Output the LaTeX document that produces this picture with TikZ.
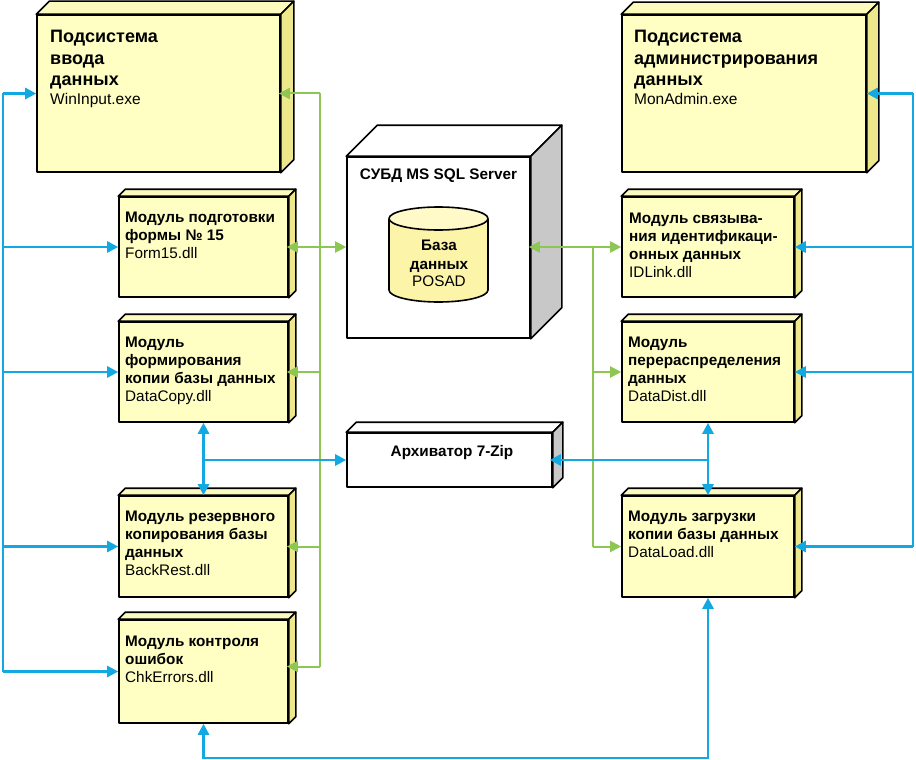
\documentclass[tikz,border=0pt]{standalone}
\usepackage{fontspec}
\setmainfont{Liberation Sans}
\usetikzlibrary{arrows.meta,fit}
\definecolor{yfront}{RGB}{255,255,196}
\definecolor{ytop}{RGB}{252,250,188}
\definecolor{yside}{RGB}{238,232,140}
\definecolor{gside}{RGB}{200,200,200}
\definecolor{cylbody}{RGB}{252,244,168}
\definecolor{cyltop}{RGB}{255,250,200}
\definecolor{cblue}{RGB}{18,168,226}
\definecolor{cgreen}{RGB}{141,198,83}
\tikzset{
  boxedge/.style={draw=black, line width=1.6pt, line join=round},
  yfrontst/.style={boxedge, fill=yfront},
  ytopst/.style={boxedge, fill=ytop},
  ysidest/.style={boxedge, fill=yside},
  wfrontst/.style={boxedge, fill=white},
  wtopst/.style={boxedge, fill=white},
  wsidest/.style={boxedge, fill=gside},
  bl/.style={draw=cblue, line width=2.6pt},
  gr/.style={draw=cgreen, line width=2pt},
  tipa/.style={-{Triangle[length=11pt,width=11pt]}},
  tipb/.style={{Triangle[length=11pt,width=11pt]}-{Triangle[length=11pt,width=11pt]}},
  txt/.style={anchor=base west, inner sep=0pt},
  txtc/.style={anchor=base, inner sep=0pt},
}
% #1 name, #2 x1, #3 y1, #4 x2, #5 y2, #6 depth, #7 colour set (y or w)
\newcommand\mycube[7]{%
  \node[fit={(#2,#3) (#4,#5)}, inner sep=0pt, #7frontst] (#1) {};
  \filldraw[#7topst] (#1.north west) -- ([shift={(#6,-#6)}]#1.north west)
     -- ([shift={(#6,-#6)}]#1.north east) -- (#1.north east) -- cycle;
  \filldraw[#7sidest] (#1.north east) -- ([shift={(#6,-#6)}]#1.north east)
     -- ([shift={(#6,-#6)}]#1.south east) -- (#1.south east) -- cycle;
}
\newcommand\mylbl[3]{{\fontsize{#1}{#2}\selectfont\begin{tabular}[t]{@{}l@{}}#3\end{tabular}}}
\newcommand\mylblc[3]{{\fontsize{#1}{#2}\selectfont\begin{tabular}[t]{@{}c@{}}#3\end{tabular}}}
\newcommand\fn[1]{{\fontsize{15.5}{18}\selectfont #1}}
\begin{document}
\begin{tikzpicture}[x=1pt,y=-1pt]
\useasboundingbox[fill=white] (0,0) rectangle (916,760);

% boxes
\mycube{win}{37}{15}{280}{172}{13}{y}
\mycube{mon}{622}{15}{866}{172}{12}{y}
\mycube{frm}{119}{197}{288}{297}{7}{y}
\mycube{dcp}{119}{322}{288}{422}{7}{y}
\mycube{bkr}{119}{496}{288}{597}{7}{y}
\mycube{chk}{119}{620}{288}{723}{7}{y}
\mycube{idl}{622}{197}{794}{297}{7}{y}
\mycube{dds}{622}{322}{794}{422}{7}{y}
\mycube{dld}{622}{496}{794}{597}{7}{y}
\mycube{sql}{347}{157}{530}{338}{31}{w}
\mycube{zip}{347}{433}{552}{487}{10}{w}

% database cylinder
\fill[cylbody] (389,218.5) rectangle (488,290);
\fill[cylbody] (438.5,290) ellipse [x radius=49.5, y radius=12];
\draw[boxedge] (389,218.5) -- (389,290) arc[start angle=180, end angle=0, x radius=49.5, y radius=12] -- (488,218.5);
\filldraw[boxedge, fill=cyltop] (438.5,218.5) ellipse [x radius=49.5, y radius=11.5];

% texts
\node[txt] (t-win) at (50,43) {\mylbl{18}{21.5}{\textbf{Подсистема}\\\textbf{ввода}\\\textbf{данных}\\[-3pt]\fn{WinInput.exe}}};
\node[txt] (t-mon) at (634,43) {\mylbl{18}{21.5}{\textbf{Подсистема}\\\textbf{администрирования}\\\textbf{данных}\\[-3pt]\fn{MonAdmin.exe}}};
\node[txt] (t-frm) at (125,222) {\mylbl{15.3}{18}{\textbf{Модуль подготовки}\\\textbf{формы № 15}\\Form15.dll}};
\node[txt] (t-dcp) at (125,347) {\mylbl{15.3}{18}{\textbf{Модуль}\\\textbf{формирования}\\\textbf{копии базы данных}\\DataCopy.dll}};
\node[txt] (t-bkr) at (125,521) {\mylbl{15.3}{18}{\textbf{Модуль резервного}\\\textbf{копирования базы}\\\textbf{данных}\\BackRest.dll}};
\node[txt] (t-chk) at (125,646) {\mylbl{15.3}{18}{\textbf{Модуль контроля}\\\textbf{ошибок}\\ChkErrors.dll}};
\node[txt] (t-idl) at (629,223) {\mylbl{15.3}{18}{\textbf{Модуль связыва-}\\\textbf{ния идентификаци-}\\\textbf{онных данных}\\IDLink.dll}};
\node[txt] (t-dds) at (628,347) {\mylbl{15.3}{18}{\textbf{Модуль}\\\textbf{перераспределения}\\\textbf{данных}\\DataDist.dll}};
\node[txt] (t-dld) at (628,521) {\mylbl{15.3}{18}{\textbf{Модуль загрузки}\\\textbf{копии базы данных}\\DataLoad.dll}};
\node[txtc] (t-sql) at (438.5,179) {\fontsize{15.3}{18}\selectfont\bfseries СУБД MS SQL Server};
\node[txtc] (t-db) at (439,250) {\mylblc{15.3}{19}{\textbf{База}\\\textbf{данных}\\[-1.5pt]POSAD}};
\node[txtc] (t-zip) at (452,456) {\fontsize{15.3}{18}\selectfont\bfseries Архиватор 7-Zip};

% bus coordinates
\coordinate (lbx) at (3,0);
\coordinate (glx) at (320,0);
\coordinate (grx) at (593,0);
\coordinate (rbx) at (913,0);
\coordinate (bot) at (0,758);
\coordinate (gchk) at ([yshift=5pt]chk.east);

% left blue bus
\draw[bl] (lbx |- win.west) -- (lbx |- chk.west);
\foreach \n in {win,frm,dcp,bkr,chk} \draw[bl,tipa] (lbx |- \n.west) -- (\n.west);

% right blue bus
\draw[bl] (rbx |- mon.east) -- (rbx |- dld.east);
\foreach \n in {mon,idl,dds,dld} \draw[bl,tipa] (rbx |- \n.east) -- (\n.east);

% left green bus
\draw[gr] (glx |- win.east) -- (glx |- gchk);
\foreach \n in {win,dcp,bkr} \draw[gr,tipa,shorten >=-2pt] (glx |- \n.east) -- (\n.east);
\draw[gr,tipa,shorten >=-2pt] (glx |- gchk) -- (gchk);
\draw[gr,tipb,shorten <=-2pt] (frm.east) -- (frm.east -| sql.west);

% right green bus
\draw[gr] (grx |- idl.west) -- (grx |- dld.west);
\draw[gr,tipb,shorten <=-2pt] (sql.east |- idl.west) -- (idl.west);
\foreach \n in {dds,dld} \draw[gr,tipa] (grx |- \n.west) -- (\n.west);

% archiver links
\draw[bl,tipb] (dcp.south) -- (bkr.north);
\draw[bl,tipa] (dcp.south |- zip.west) -- (zip.west);
\draw[bl,tipb] (dds.south) -- (dld.north);
\draw[bl,tipa,shorten >=-3pt] (dds.south |- zip.east) -- (zip.east);

% bottom link
\draw[bl,tipb] (chk.south) -- (chk.south |- bot) -- (dld.south |- bot) -- (dld.south);
\end{tikzpicture}
\end{document}
